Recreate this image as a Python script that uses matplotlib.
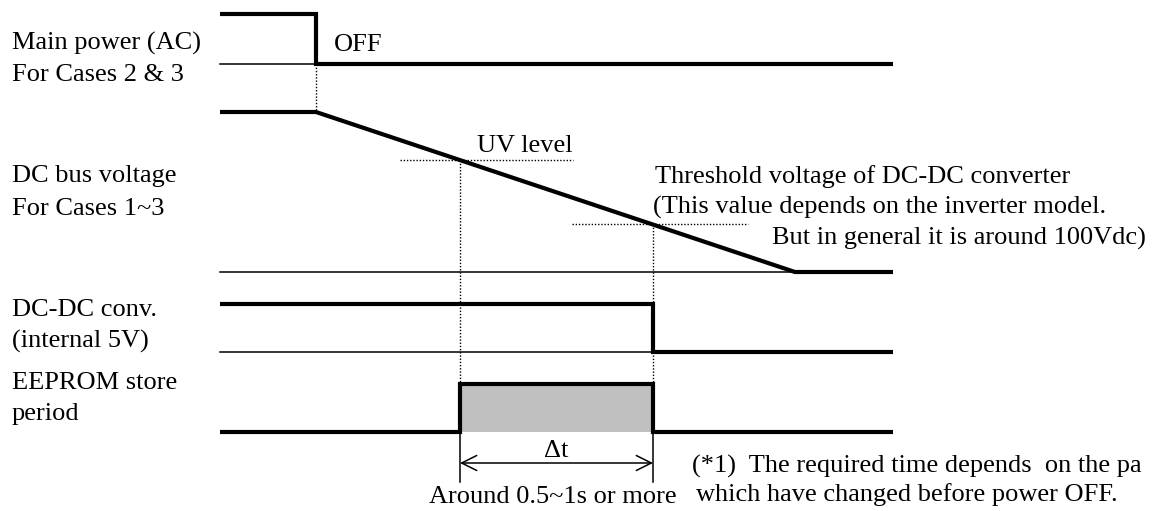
import matplotlib
matplotlib.use("Agg")
import matplotlib.pyplot as plt

# ---- timeline (horizontal positions of events, in diagram time units) ----
t_start = 220
t_off = 316        # main power OFF
t_uv = 460         # DC bus reaches UV level
t_th = 653         # DC bus reaches DC-DC threshold
t_dc_zero = 795    # DC bus fully discharged
t_end = 893

# ---- signal waveforms (time, level 0..1) ----
main_t = [t_start, t_off, t_off, t_end]
main_v = [1, 1, 0, 0]

dcbus_t = [t_start, t_off, t_dc_zero, t_end]
dcbus_v = [1, 1, 0, 0]
uv_level = 0.70
th_level = 0.30

dcdc_t = [t_start, t_th, t_th, t_end]
dcdc_v = [1, 1, 0, 0]

eep_t = [t_start, t_uv, t_uv, t_th, t_th, t_end]
eep_v = [0, 0, 1, 1, 0, 0]

# ---- row geometry (low y, high y) ----
rows = {
    "main": (64, 14),
    "dcbus": (272, 112),
    "dcdc": (352, 304),
    "eep": (432, 384),
}

def y_of(row, v):
    lo, hi = rows[row]
    return lo + (hi - lo) * v

labels = [
    ("Main power (AC)", 43), ("For Cases 2 & 3", 75),
    ("DC bus voltage", 176), ("For Cases 1~3", 209),
    ("DC-DC conv.", 310), ("(internal 5V)", 341),
    ("EEPROM store", 383), ("period", 414),
]

W, H = 1152, 511
fig = plt.figure(figsize=(W / 100, H / 100), dpi=100)
ax = fig.add_axes([0, 0, 1, 1])
ax.set_xlim(0, W)
ax.set_ylim(H, 0)
ax.axis("off")

FONT = "Liberation Serif"
FS = 19
THICK = 3.0
THIN = 1.1
DOT = dict(color="black", lw=1.0, linestyle=(0, (1, 1.3)))

# thin baselines
ax.plot([t_start, t_off], [rows["main"][0]] * 2, color="black", lw=THIN)
ax.plot([t_start, t_dc_zero], [rows["dcbus"][0]] * 2, color="black", lw=THIN)
ax.plot([t_start, t_th], [rows["dcdc"][0]] * 2, color="black", lw=THIN)

# EEPROM shaded period
ax.fill_between([t_uv, t_th], [y_of("eep", 0)] * 2, [y_of("eep", 1)] * 2,
                color="#c0c0c0", lw=0)

# dotted guides
ax.plot([t_off, t_off], [y_of("main", 0), y_of("dcbus", 1)], **DOT)
y_uv = y_of("dcbus", uv_level)
y_th = y_of("dcbus", th_level)
ax.plot([400, 573], [y_uv, y_uv], **DOT)
ax.plot([572, 748], [y_th, y_th], **DOT)
ax.plot([t_uv, t_uv], [y_uv, y_of("eep", 1)], **DOT)
ax.plot([t_th, t_th], [y_th, y_of("eep", 1)], **DOT)

# thick signals
for name, tt, vv in [("main", main_t, main_v), ("dcbus", dcbus_t, dcbus_v),
                     ("dcdc", dcdc_t, dcdc_v), ("eep", eep_t, eep_v)]:
    ax.plot(tt, [y_of(name, v) for v in vv], color="black", lw=THICK,
            solid_joinstyle="miter", solid_capstyle="butt")

# dimension for delta t
y_dim_top = y_of("eep", 0)
ax.plot([t_uv, t_uv], [y_dim_top, 482], color="black", lw=THIN)
ax.plot([t_th, t_th], [y_dim_top, 482], color="black", lw=THIN)
ax.annotate("", xy=(t_uv, 463), xytext=(t_th, 463),
            arrowprops=dict(arrowstyle="<->,head_length=0.9,head_width=0.45",
                            lw=1.1, color="black", shrinkA=0, shrinkB=0,
                            mutation_scale=12))
ax.text((t_uv + t_th) / 2, 451, "Δt", fontsize=FS, family=FONT,
        ha="center", va="center")

# left labels
for txt, y in labels:
    ax.text(12, y, txt, fontsize=FS, family=FONT, ha="left", va="center")

ax.text(334, 45, "OFF", fontsize=FS, family=FONT, ha="left", va="center")
ax.text(477, 146, "UV level", fontsize=FS, family=FONT, ha="left", va="center")
ax.text(655, 177, "Threshold voltage of DC-DC converter", fontsize=FS,
        family=FONT, ha="left", va="center")
ax.text(653, 207, "(This value depends on the inverter model.", fontsize=FS,
        family=FONT, ha="left", va="center")
ax.text(1146, 238, "But in general it is around 100Vdc)", fontsize=FS,
        family=FONT, ha="right", va="center")

ax.text(553, 497, "Around 0.5~1s or more", fontsize=FS, family=FONT,
        ha="center", va="center")
ax.text(692, 466, "(*1)  The required time depends  on the pa",
        fontsize=FS, family=FONT, ha="left", va="center")
ax.text(696, 495, "which have changed before power OFF.", fontsize=FS,
        family=FONT, ha="left", va="center")

fig.savefig("out.png", dpi=100)
